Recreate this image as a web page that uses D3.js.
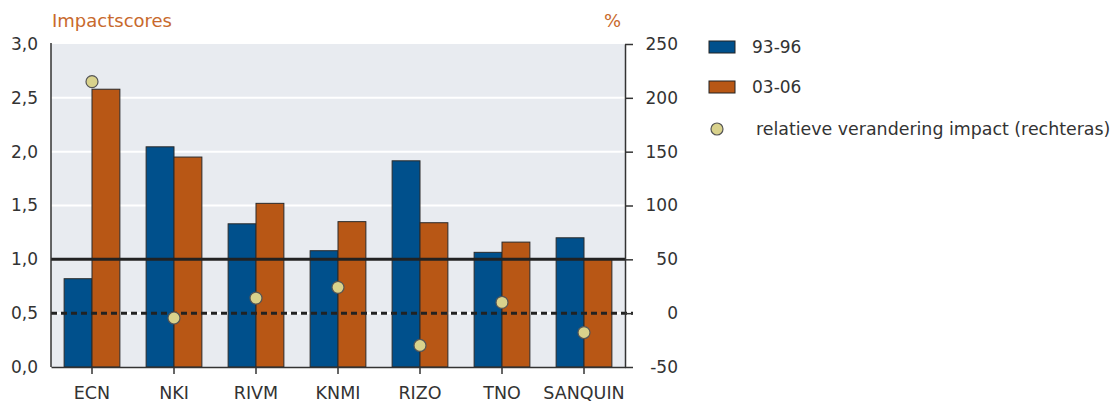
<!DOCTYPE html>
<html><head><meta charset="utf-8">
<script src="https://cdn.jsdelivr.net/npm/d3@7"></script>
<style>body{margin:0;background:#fff}svg{display:block;font-family:"DejaVu Sans",sans-serif}</style>
</head><body><svg id="c" width="1120" height="405"></svg>
<script>
const categories = ["ECN","NKI","RIVM","KNMI","RIZO","TNO","SANQUIN"];
const series9396 = [0.82,2.045,1.33,1.08,1.915,1.065,1.20];
const series0306 = [2.58,1.95,1.52,1.35,1.34,1.16,1.00];
const relChange = [215,-4.5,14,24,-30,10,-18];
const leftTicks = [0,0.5,1,1.5,2,2.5,3];
const rightTicks = [-50,0,50,100,150,200,250];
const seriesNames = ["93-96","03-06"];
const dotLabel = "relatieve verandering impact (rechteras)";
const colors = ["#00508c","#b85715"];

const FONT = "DejaVu Sans";
const svg = d3.select("#c");
const L = 51, R = 625, T = 44, B = 367;
const x = d3.scaleBand().domain(categories).range([L,R]).paddingInner(0.32).paddingOuter(0.16);
const y = d3.scaleLinear().domain([0,3]).range([B,T]);
const y2 = d3.scaleLinear().domain([-50,250]).range([B,T]);
const xs = d3.scaleBand().domain([0,1]).range([0,x.bandwidth()]);

svg.append("rect").attr("x",L).attr("y",T).attr("width",R-L).attr("height",B-T).attr("fill","#e8ebf0");
svg.append("g").selectAll("line").data(leftTicks.filter(d=>d>0&&d<3)).join("line")
  .attr("x1",L).attr("x2",R).attr("y1",d=>y(d)).attr("y2",d=>y(d)).attr("stroke","#fff").attr("stroke-width",2);

const data = categories.map((c,i)=>({c,vals:[series9396[i],series0306[i]],rel:relChange[i]}));
const g = svg.append("g");
data.forEach(d=>{
  d.vals.forEach((v,j)=>{
    g.append("rect").attr("x",x(d.c)+xs(j)).attr("y",y(v)).attr("width",xs.bandwidth()).attr("height",y(0)-y(v))
      .attr("fill",colors[j]).attr("stroke","#2a2a2a").attr("stroke-width",1);
  });
});

// reference lines
svg.append("line").attr("x1",L).attr("x2",R).attr("y1",y(1)).attr("y2",y(1)).attr("stroke","#222").attr("stroke-width",3);
svg.append("line").attr("x1",L).attr("x2",R+8).attr("y1",y2(0)).attr("y2",y2(0)).attr("stroke","#222").attr("stroke-width",3).attr("stroke-dasharray","6,4");

// axes
const xAx = svg.append("g").attr("transform",`translate(0,${B})`).call(d3.axisBottom(x).tickSize(7).tickSizeOuter(0).tickPadding(13));
xAx.select(".domain").attr("stroke","#333").attr("stroke-width",1.5);
xAx.selectAll(".tick line").attr("stroke","#333").attr("stroke-width",1.5);
xAx.selectAll("text").attr("font-size",17.5).attr("fill","#333").attr("font-family",FONT);

const yAx = svg.append("g").attr("transform",`translate(${L},0)`).call(d3.axisLeft(y).tickValues(leftTicks).tickSize(0).tickPadding(13).tickFormat(d=>d3.format(".1f")(d).replace(".",",")));
yAx.select(".domain").attr("stroke","#333").attr("stroke-width",1.5).attr("d",`M0,${T-1}V${B}`);
yAx.selectAll("text").attr("font-size",17).attr("fill","#333").attr("font-family",FONT);

const y2Ax = svg.append("g").attr("transform",`translate(${R},0)`).call(d3.axisRight(y2).tickValues(rightTicks).tickSize(8).tickSizeOuter(0).tickPadding(0).tickFormat(d=>String(d)));
y2Ax.select(".domain").attr("stroke","#333").attr("stroke-width",1.5);
y2Ax.selectAll(".tick line").attr("stroke","#333").attr("stroke-width",1.5);
y2Ax.selectAll("text").attr("font-size",17).attr("fill","#333").attr("font-family",FONT).attr("text-anchor","end").attr("x",53);

// dots
svg.append("g").selectAll("circle").data(data).join("circle")
  .attr("cx",d=>x(d.c)+x.bandwidth()/2).attr("cy",d=>y2(d.rel)).attr("r",6)
  .attr("fill","#d9d28c").attr("stroke","#555").attr("stroke-width",1.2);

// titles
svg.append("text").attr("x",52).attr("y",27).text("Impactscores").attr("fill","#c8692c").attr("font-size",18);
svg.append("text").attr("x",621).attr("y",27).attr("text-anchor","end").text("%").attr("fill","#c8692c").attr("font-size",18);

// legend
const lg = svg.append("g");
seriesNames.forEach((n,i)=>{
  lg.append("rect").attr("x",709).attr("y",41+i*40).attr("width",26).attr("height",12).attr("fill",colors[i]).attr("stroke","#222").attr("stroke-width",1);
  lg.append("text").attr("x",752).attr("y",53+i*40).text(n).attr("font-size",17).attr("fill","#333");
});
lg.append("circle").attr("cx",717).attr("cy",129).attr("r",6).attr("fill","#d9d28c").attr("stroke","#555").attr("stroke-width",1.2);
lg.append("text").attr("x",756).attr("y",135).text(dotLabel).attr("font-size",17.4).attr("fill","#333");
</script></body></html>
